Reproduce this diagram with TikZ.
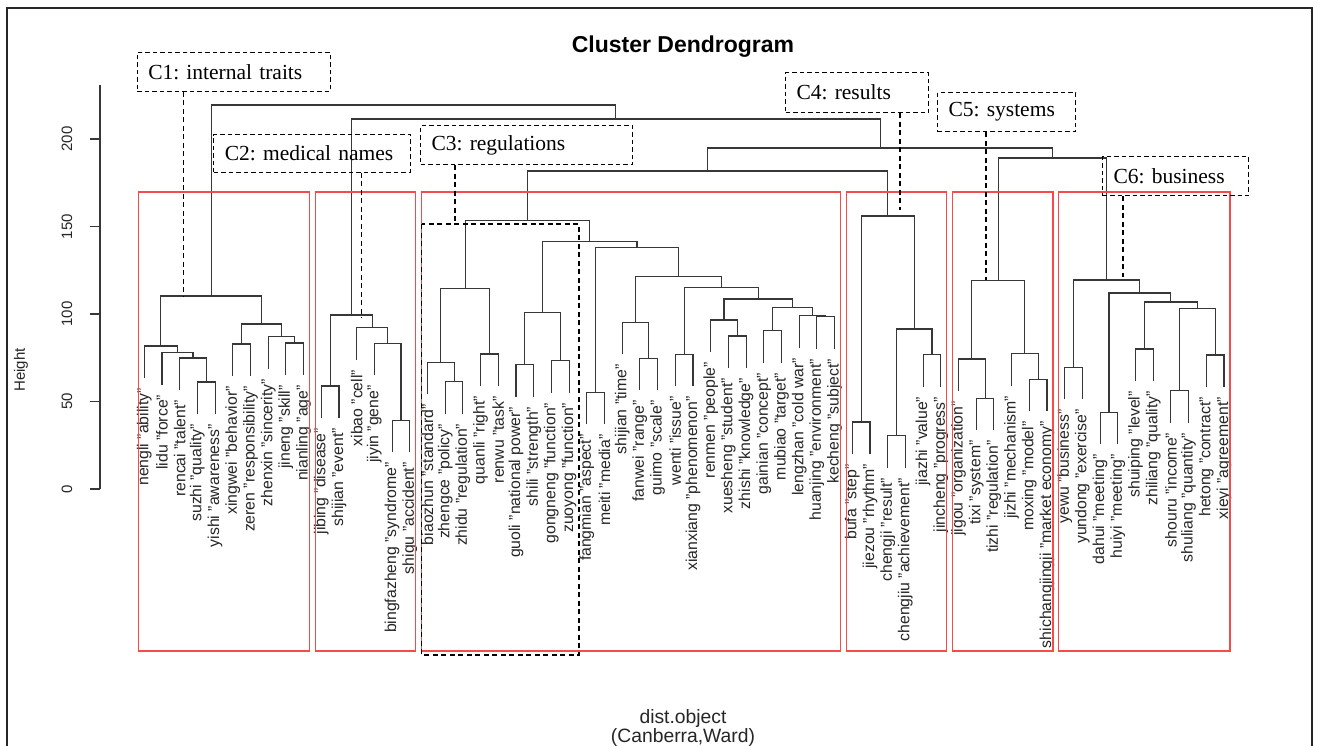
\documentclass[tikz,border=0pt]{standalone}
\usepackage{fontspec}
\setmainfont{Liberation Serif}
\setsansfont{Liberation Sans}
\usetikzlibrary{calc}
\frenchspacing
\definecolor{treegray}{RGB}{55,55,55}
\definecolor{rboxred}{RGB}{245,75,75}
\tikzset{
  tree/.style={draw=treegray, line width=1.1pt},
  leaflab/.style={rotate=90, anchor=east, inner sep=0pt, font=\sffamily\fontsize{15.8}{15.8}\selectfont, text=black!85},
  ticklab/.style={rotate=90, inner sep=0pt, font=\sffamily\fontsize{15}{15}\selectfont, text=black!85},
  redbox/.style={draw=rboxred, line width=1.3pt},
  cbox/.style={draw=black, line width=1.1pt, dash pattern=on 4.5pt off 3pt, anchor=north west, inner xsep=11pt, inner ysep=0pt, font=\rmfamily\fontsize{21.5}{21.5}\selectfont, align=left},
  ptr/.style={draw=black, line width=1.1pt, dash pattern=on 5pt off 3.5pt},
  axisline/.style={draw=treegray, line width=1.1pt},
}
\newcommand\dmerge[4]{%
  \path let \p1=(#2), \p2=(#3) in coordinate (#1) at ({0.5*\x1+0.5*\x2},{-#4pt});
  \draw[tree] (#2) |- (#1) -| (#3);}
\newcommand\dleaf[4]{%
  \coordinate (#1) at ({144.3+17.7*#2},{#3+32});
  \node[leaflab] (#1t) at ({144.3+17.7*#2},{#3+42}) {#4};}
\begin{document}
\begin{tikzpicture}[x=1pt,y=-1pt]
\useasboundingbox (0,0) rectangle (1317,745);
\fill[white] (0,0) rectangle (1317,745);
% outer frame
\draw[line width=1.6pt, draw=black!85] (7,8) rectangle (1312,760);

% title and axis labels
\node[font=\sffamily\bfseries\fontsize{23}{23}\selectfont] (title) at (683,47) {Cluster Dendrogram};
\node[font=\sffamily\fontsize{19.3}{19.3}\selectfont, text=black!85] (xlab) at (683,718) {dist.object};
\node[font=\sffamily\fontsize{19.3}{19.3}\selectfont, text=black!85] (sublab) at (683,737) {(Canberra,Ward)};
\node[ticklab] (ylab) at (21,370) {Height};

% axis
\coordinate (ax0) at (100,489);
\coordinate (axtop) at (100,85);
\draw[axisline] (axtop) -- (ax0);
\foreach \h/\n in {0/a,50/b,100/c,150/d,200/e}{
  \coordinate (tk\n) at (100,{489-1.75*\h});
  \coordinate (tl\n) at (90,{489-1.75*\h});
  \draw[axisline] (tk\n) -- (tl\n);
  \node[ticklab] (tn\n) at (67,{489-1.75*\h}) {\h};
}

% leaves
\dleaf{L0}{0}{346}{nengli "ability"}
\dleaf{L1}{1}{352.7}{lidu "force"}
\dleaf{L2}{2}{358}{rencai "talent"}
\dleaf{L3}{3}{382}{suzhi "quality"}
\dleaf{L4}{4}{382}{yishi "awareness"}
\dleaf{L5}{5}{344}{xingwei "behavior"}
\dleaf{L6}{6}{344}{zeren "responsibility"}
\dleaf{L7}{7}{336.7}{zhenxin "sincerity"}
\dleaf{L8}{8}{343}{jineng "skill"}
\dleaf{L9}{9}{343}{nianling "age"}
\dleaf{L10}{10}{386}{jibing "disease"}
\dleaf{L11}{11}{386}{shijian "event"}
\dleaf{L12}{12}{327.7}{xibao "cell"}
\dleaf{L13}{13}{343.3}{jiyin "gene"}
\dleaf{L14}{14}{420.3}{bingfazheng "syndrome"}
\dleaf{L15}{15}{420.3}{shigu "accident"}
\dleaf{L16}{16}{362.3}{biaozhun "standard"}
\dleaf{L17}{17}{381.7}{zhengce "policy"}
\dleaf{L18}{18}{381.7}{zhidu "regulation"}
\dleaf{L19}{19}{354}{quanli "right"}
\dleaf{L20}{20}{354}{renwu "task"}
\dleaf{L21}{21}{364.7}{guoli "national power"}
\dleaf{L22}{22}{364.7}{shili "strength"}
\dleaf{L23}{23}{360.7}{gongneng "function"}
\dleaf{L24}{24}{360.7}{zuoyong "function"}
\dleaf{L25}{25}{392.3}{fangmian "aspect"}
\dleaf{L26}{26}{392.3}{meiti "media"}
\dleaf{L27}{27}{322.3}{shijian "time"}
\dleaf{L28}{28}{358.3}{fanwei "range"}
\dleaf{L29}{29}{358.3}{guimo "scale"}
\dleaf{L30}{30}{354.3}{wenti "issue"}
\dleaf{L31}{31}{354.3}{xianxiang "phenomenon"}
\dleaf{L32}{32}{320}{renmen "people"}
\dleaf{L33}{33}{336}{xuesheng "student"}
\dleaf{L34}{34}{336}{zhishi "knowledge"}
\dleaf{L35}{35}{330.7}{gainian "concept"}
\dleaf{L36}{36}{330.7}{mubiao "target"}
\dleaf{L37}{37}{315.7}{lengzhan "cold war"}
\dleaf{L38}{38}{316.7}{huanjing "environment"}
\dleaf{L39}{39}{316.7}{kecheng "subject"}
\dleaf{L40}{40}{422}{bufa "step"}
\dleaf{L41}{41}{422}{jiezou "rhythm"}
\dleaf{L42}{42}{435.7}{chengji "result"}
\dleaf{L43}{43}{435.7}{chengjiu "achievement"}
\dleaf{L44}{44}{354.7}{jiazhi "value"}
\dleaf{L45}{45}{354.7}{jincheng "progress"}
\dleaf{L46}{46}{359}{jigou "organization"}
\dleaf{L47}{47}{398.3}{tixi "system"}
\dleaf{L48}{48}{398.3}{tizhi "regulation"}
\dleaf{L49}{49}{353.7}{jizhi "mechanism"}
\dleaf{L50}{50}{379.3}{moxing "model"}
\dleaf{L51}{51}{379.3}{shichangjingji "market economy"}
\dleaf{L52}{52}{367.3}{yewu "business"}
\dleaf{L53}{53}{367.3}{yundong "exercise"}
\dleaf{L54}{54}{412.3}{dahui "meeting"}
\dleaf{L55}{55}{412.3}{huiyi "meeting"}
\dleaf{L56}{56}{349}{shuiping "level"}
\dleaf{L57}{57}{349}{zhiliang "quality"}
\dleaf{L58}{58}{390.7}{shouru "income"}
\dleaf{L59}{59}{390.7}{shuliang "quantity"}
\dleaf{L60}{60}{355}{hetong "contract"}
\dleaf{L61}{61}{355}{xieyi "agreement"}

% C1
\dmerge{A4}{L3}{L4}{382}
\dmerge{A3}{L2}{A4}{358}
\dmerge{A2}{L1}{A3}{352.7}
\dmerge{A1}{L0}{A2}{346}
\dmerge{B1}{L5}{L6}{344}
\dmerge{B3}{L8}{L9}{343}
\dmerge{B2}{L7}{B3}{336.7}
\dmerge{B0}{B1}{B2}{324}
\dmerge{mC1}{A1}{B0}{296}
% C2
\dmerge{D1}{L10}{L11}{386}
\dmerge{D4}{L14}{L15}{420.3}
\dmerge{D3}{L13}{D4}{343.3}
\dmerge{D2}{L12}{D3}{327.7}
\dmerge{mC2}{D1}{D2}{315}
% C3
\dmerge{E1}{L17}{L18}{381.7}
\dmerge{E2}{L16}{E1}{362.3}
\dmerge{E3}{L19}{L20}{354}
\dmerge{E4}{E2}{E3}{288.3}
\dmerge{F1}{L21}{L22}{364.7}
\dmerge{F2}{L23}{L24}{360.7}
\dmerge{F3}{F1}{F2}{312.7}
\dmerge{G1}{L25}{L26}{392.3}
\dmerge{H1}{L28}{L29}{358.3}
\dmerge{H2}{L27}{H1}{322.3}
\dmerge{I1}{L30}{L31}{354.3}
\dmerge{J1}{L33}{L34}{336}
\dmerge{J2}{L32}{J1}{320}
\dmerge{K1}{L35}{L36}{330.7}
\dmerge{K2}{L38}{L39}{316.7}
\dmerge{K3}{L37}{K2}{315.7}
\dmerge{K4}{K1}{K3}{307.7}
\dmerge{J3}{J2}{K4}{299}
\dmerge{I2}{I1}{J3}{287.3}
\dmerge{H3}{H2}{I2}{276.7}
\dmerge{G2}{G1}{H3}{247.3}
\dmerge{F4}{F3}{G2}{241.3}
\dmerge{mC3}{E4}{F4}{220.7}
% C4
\dmerge{M1}{L40}{L41}{422}
\dmerge{M2}{L42}{L43}{435.7}
\dmerge{M3}{L44}{L45}{354.7}
\dmerge{M4}{M2}{M3}{329}
\dmerge{mC4}{M1}{M4}{216}
% C5
\dmerge{N1}{L47}{L48}{398.3}
\dmerge{N2}{L46}{N1}{359}
\dmerge{N3}{L50}{L51}{379.3}
\dmerge{N4}{L49}{N3}{353.7}
\dmerge{mC5}{N2}{N4}{280.3}
% C6
\dmerge{P1}{L52}{L53}{367.3}
\dmerge{P2}{L54}{L55}{412.3}
\dmerge{P3}{L56}{L57}{349}
\dmerge{P4}{L58}{L59}{390.7}
\dmerge{P5}{L60}{L61}{355}
\dmerge{P6}{P4}{P5}{308.7}
\dmerge{P7}{P3}{P6}{302}
\dmerge{P8}{P2}{P7}{293}
\dmerge{mC6}{P1}{P8}{280}
% upper levels
\dmerge{R1}{mC3}{mC4}{171}
\dmerge{R2}{mC5}{mC6}{158}
\dmerge{R3}{R1}{R2}{148}
\dmerge{R4}{mC2}{R3}{119}
\dmerge{R5}{mC1}{R4}{105}

% red cluster rectangles
\draw[redbox] (138.3,192) rectangle (309.45,651);
\draw[redbox] (315.3,192) rectangle (415.65,651);
\draw[redbox] (421.5,192) rectangle (840.45,651);
\draw[redbox] (846.3,192) rectangle (946.65,651);
\draw[redbox] (952.5,192) rectangle (1052.85,651);
\draw[redbox] (1058.7,192) rectangle (1229.85,651);

% annotation boxes
\node[cbox, text width=171pt, minimum height=39pt] (c1box) at (136.7,51.7) {C1: internal traits};
\node[cbox, text width=174.7pt, minimum height=37.7pt] (c2box) at (213.3,134) {C2: medical names};
\node[cbox, text width=190pt, minimum height=39pt] (c3box) at (420,125) {C3: regulations};
\node[cbox, text width=121pt, minimum height=40pt] (c4box) at (785,72) {C4: results};
\node[cbox, text width=116pt, minimum height=39pt] (c5box) at (937,92) {C5: systems};
\node[cbox, text width=124pt, minimum height=39pt] (c6box) at (1102,156) {C6: business};

\coordinate (p1) at (183.3,296);
\coordinate (p2) at (361.7,318);
\coordinate (p3) at (455,224);
\coordinate (p4) at (900,210);
\coordinate (p5) at (986,280);
\coordinate (p6) at (1123,277);
\draw[ptr] (c1box.south -| p1) -- (p1);
\draw[ptr] (c2box.south -| p2) -- (p2);
\draw[ptr] (c3box.south -| p3) -- (p3);
\draw[ptr] (c4box.south -| p4) -- (p4);
\draw[ptr] (c5box.south -| p5) -- (p5);
\draw[ptr] (c6box.south -| p6) -- (p6);
% dashed region around part of C3
\draw[ptr] (421.7,224) rectangle (579,655);
\end{tikzpicture}
\end{document}
